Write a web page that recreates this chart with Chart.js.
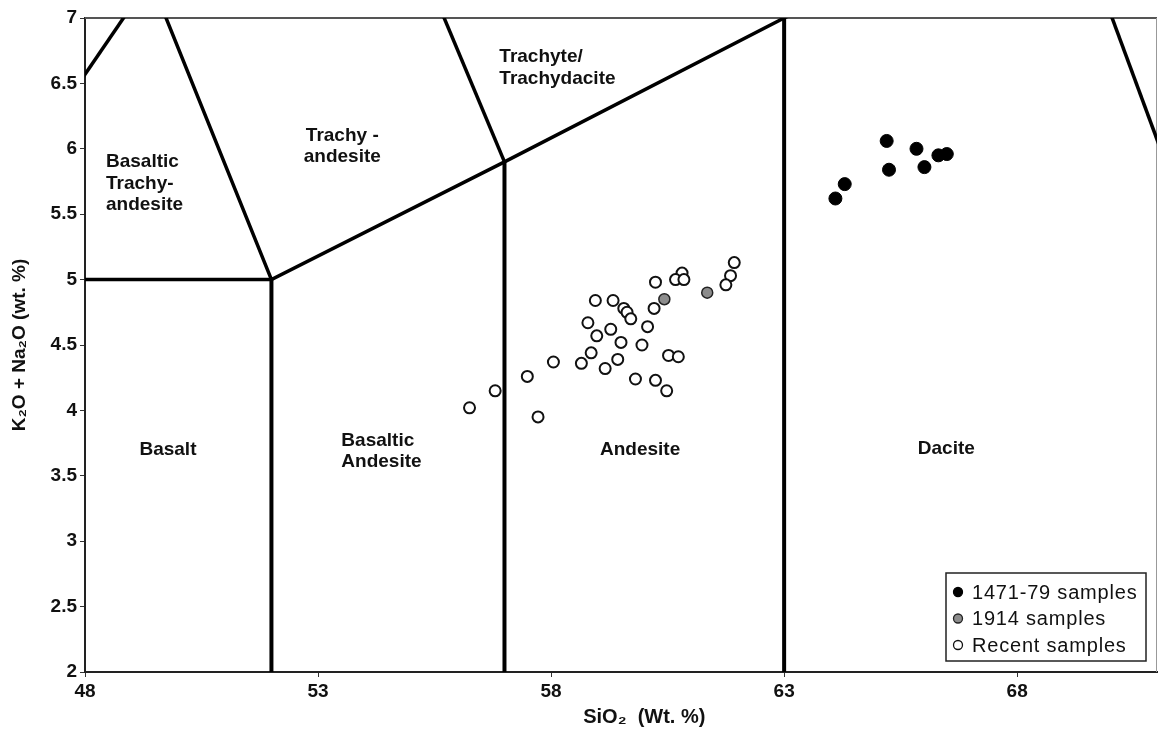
<!DOCTYPE html>
<html>
<head>
<meta charset="utf-8">
<script src="https://cdn.jsdelivr.net/npm/chart.js@4.4.0/dist/chart.umd.min.js"></script>
<style>
  html, body { margin: 0; padding: 0; background: #fff; overflow: hidden; }
  #wrap { width: 1158px; height: 738px; position: relative; }
  #grafico { display: block; }
</style>
</head>
<body>
<div id="wrap"><canvas id="grafico"></canvas></div>
<script>
// Muestras (SiO2 vs K2O + Na2O)
var oldSiO2 = [65.20, 65.84, 66.31, 66.49, 65.25, 66.01, 64.30, 64.10];
var oldAlk = [6.06, 6.00, 5.95, 5.96, 5.84, 5.86, 5.73, 5.62];

var s1914SiO2 = [60.43, 61.35];
var s1914Alk = [4.85, 4.90];

var recentSiO2 = [61.93, 61.85, 61.75, 60.81, 60.67, 60.85, 60.24, 58.95, 59.33, 59.56, 59.63,
  59.71, 60.21, 58.79, 59.28, 60.07, 58.98, 59.50, 59.95, 58.86, 59.43, 58.05, 58.65, 60.52,
  60.73, 59.16, 57.49, 59.81, 60.24, 60.48, 56.80, 56.25, 57.72];
var recentAlk = [5.13, 5.03, 4.96, 5.05, 5.00, 5.00, 4.98, 4.84, 4.84, 4.78, 4.75,
  4.70, 4.78, 4.67, 4.62, 4.64, 4.57, 4.52, 4.50, 4.44, 4.39, 4.37, 4.36, 4.42,
  4.41, 4.32, 4.26, 4.24, 4.23, 4.15, 4.15, 4.02, 3.95];

// Ejes
var xTicks = [48, 53, 58, 63, 68];
var yTicks = [2, 2.5, 3, 3.5, 4, 4.5, 5, 5.5, 6, 6.5, 7];
var xTitle = "SiO\u2082  (Wt. %)";
var yTitle = "K\u2082O + Na\u2082O (wt. %)";

// Limites del diagrama TAS (vertices)
var lineTrachybasalt = [[45, 5], [49.4, 7.3]];
var lineAlkaline = [[49.4, 7.3], [52, 5], [57, 5.9], [63, 7], [69, 8]];
var lineBasaltTop = [[45, 5], [52, 5]];
var line52 = [[52, 0], [52, 5]];
var line57 = [[57, 0], [57, 5.9]];
var line63 = [[63, 0], [63, 7]];
var lineTrachyte = [[57, 5.9], [53, 9.3]];
var lineDacite = [[69, 8], [77.3, 0]];

// Nombres de campos
var regionLabels = [
  { text: ["Basaltic", "Trachy-", "andesite"], x: 48.45, y: 5.90, align: "left" },
  { text: ["Trachy -", "andesite"], x: 53.52, y: 6.10, align: "center" },
  { text: ["Trachyte/", "Trachydacite"], x: 56.89, y: 6.70, align: "left" },
  { text: ["Basalt"], x: 49.78, y: 3.70, align: "center" },
  { text: ["Basaltic", "Andesite"], x: 53.50, y: 3.77, align: "left" },
  { text: ["Andesite"], x: 59.91, y: 3.70, align: "center" },
  { text: ["Dacite"], x: 66.48, y: 3.71, align: "center" }
];

function toPoints(xs, ys) {
  return xs.map(function (x, i) { return { x: x, y: ys[i] }; });
}
function toLine(v) {
  return v.map(function (p) { return { x: p[0], y: p[1] }; });
}

function lineSet(v, w) {
  return {
    data: toLine(v),
    showLine: true,
    borderColor: "#000",
    borderWidth: w,
    pointRadius: 0,
    pointHoverRadius: 0,
    clip: 0,
    order: 5
  };
}

var datasets = [
  {
    label: "1471-79 samples",
    data: toPoints(oldSiO2, oldAlk),
    pointRadius: 6.5,
    pointBackgroundColor: "#000",
    pointBorderColor: "#000",
    pointBorderWidth: 1,
    order: 1
  },
  {
    label: "1914 samples",
    data: toPoints(s1914SiO2, s1914Alk),
    pointRadius: 5.5,
    pointBackgroundColor: "#8c8c8c",
    pointBorderColor: "#222",
    pointBorderWidth: 1.5,
    order: 2
  },
  {
    label: "Recent samples",
    data: toPoints(recentSiO2, recentAlk),
    pointRadius: 5.5,
    pointBackgroundColor: "#fff",
    pointBorderColor: "#111",
    pointBorderWidth: 2,
    order: 3
  },
  lineSet(lineTrachybasalt, 3.5),
  lineSet(lineAlkaline, 3.5),
  lineSet(lineBasaltTop, 3.5),
  lineSet(line52, 4),
  lineSet(line57, 4),
  lineSet(line63, 4),
  lineSet(lineTrachyte, 3.5),
  lineSet(lineDacite, 3.5)
];

// Marco, nombres de campos, titulo del eje x y leyenda
var tasPlugin = {
  id: "tasPlugin",
  beforeDatasetsDraw: function (chart) {
    var ctx = chart.ctx, a = chart.chartArea;
    ctx.save();
    ctx.strokeStyle = "#555";
    ctx.lineWidth = 2;
    ctx.beginPath();
    ctx.moveTo(a.left, a.top);
    ctx.lineTo(a.right, a.top);
    ctx.stroke();
    ctx.strokeStyle = "#999";
    ctx.lineWidth = 1;
    ctx.beginPath();
    ctx.moveTo(a.right - 0.5, a.top);
    ctx.lineTo(a.right - 0.5, a.bottom);
    ctx.stroke();

    var xs = chart.scales.x, ys = chart.scales.y;
    ctx.fillStyle = "#111";
    ctx.font = "bold 19px 'Liberation Sans', Arial, sans-serif";
    ctx.textBaseline = "middle";
    regionLabels.forEach(function (r) {
      var px = xs.getPixelForValue(r.x), py = ys.getPixelForValue(r.y);
      ctx.textAlign = r.align;
      r.text.forEach(function (t, i) {
        ctx.fillText(t, px, py + i * 21.5);
      });
    });

    // titulo del eje x, algo a la derecha del centro como en el original
    ctx.font = "bold 20px 'Liberation Sans', Arial, sans-serif";
    ctx.textAlign = "center";
    ctx.fillText(xTitle, xs.getPixelForValue(60), a.bottom + 45);
    ctx.restore();
  },
  afterDraw: function (chart) {
    var ctx = chart.ctx, a = chart.chartArea;
    var bx = a.right - 211, by = a.bottom - 99, bw = 200, bh = 88;
    ctx.save();
    ctx.fillStyle = "#fff";
    ctx.fillRect(bx, by, bw, bh);
    ctx.strokeStyle = "#222";
    ctx.lineWidth = 1.5;
    ctx.strokeRect(bx, by, bw, bh);
    ctx.font = "20px 'Liberation Sans', Arial, sans-serif";
    ctx.letterSpacing = "0.8px";
    ctx.textBaseline = "middle";
    ctx.textAlign = "left";
    for (var i = 0; i < 3; i++) {
      var ds = chart.data.datasets[i];
      var cy = by + 19 + i * 26.5;
      ctx.beginPath();
      ctx.arc(bx + 12, cy, 4.5, 0, Math.PI * 2);
      ctx.fillStyle = ds.pointBackgroundColor;
      ctx.fill();
      ctx.lineWidth = 1.3;
      ctx.strokeStyle = ds.pointBorderColor;
      ctx.stroke();
      ctx.fillStyle = "#111";
      ctx.fillText(ds.label, bx + 26, cy + 1);
    }
    ctx.restore();
  }
};

var graficoCanvas = document.getElementById("grafico");
new Chart(graficoCanvas, {
  type: "scatter",
  data: { datasets: datasets },
  options: {
    responsive: true,
    maintainAspectRatio: false,
    animation: false,
    layout: { autoPadding: false, padding: { top: 18, right: 1, left: 0, bottom: 0 } },
    plugins: {
      legend: { display: false },
      tooltip: { enabled: false }
    },
    scales: {
      x: {
        type: "linear",
        min: 48,
        max: 71,
        afterBuildTicks: function (axis) {
          axis.ticks = xTicks.map(function (v) { return { value: v }; });
        },
        afterFit: function (scale) {
          scale.height = 66;
          scale.paddingLeft = 0;
          scale.paddingRight = 0;
        },
        grid: { drawOnChartArea: false, drawTicks: true, tickLength: 5, color: "#333" },
        border: { display: true, color: "#222", width: 2 },
        ticks: {
          color: "#111",
          padding: 3,
          maxRotation: 0,
          font: { family: "'Liberation Sans', Arial, sans-serif", size: 19, weight: "bold" },
          callback: function (v) { return String(v); }
        },
        title: { display: false }
      },
      y: {
        type: "linear",
        min: 2,
        max: 7,
        afterBuildTicks: function (axis) {
          axis.ticks = yTicks.map(function (v) { return { value: v }; });
        },
        afterFit: function (scale) { scale.width = 85; },
        grid: { drawOnChartArea: false, drawTicks: true, tickLength: 5, color: "#333" },
        border: { display: true, color: "#222", width: 2 },
        ticks: {
          color: "#111",
          padding: 3,
          font: { family: "'Liberation Sans', Arial, sans-serif", size: 19, weight: "bold" },
          callback: function (v) { return String(v); }
        },
        title: {
          display: true,
          text: yTitle,
          color: "#111",
          padding: { top: 8, bottom: 0 },
          font: { family: "'Liberation Sans', Arial, sans-serif", size: 19, weight: "bold" }
        }
      }
    }
  },
  plugins: [tasPlugin]
});
</script>
</body>
</html>
